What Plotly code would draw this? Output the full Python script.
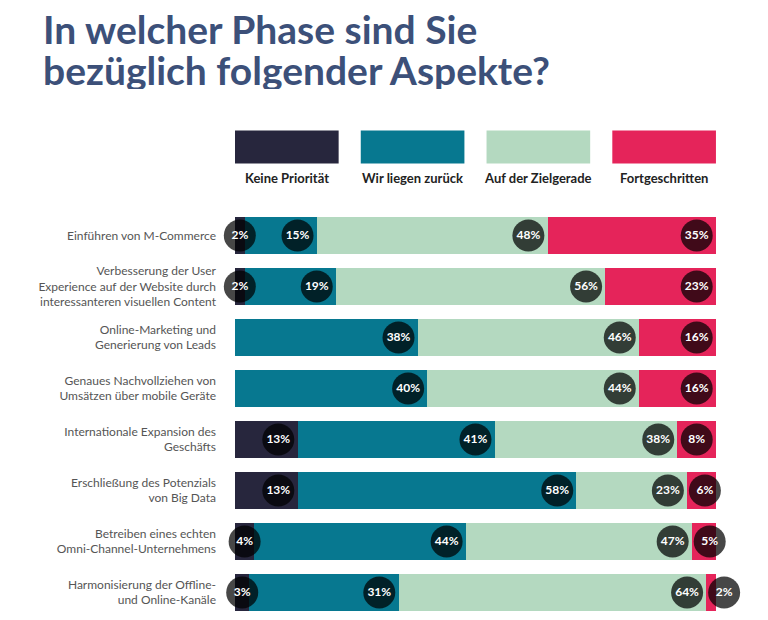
import plotly.graph_objects as go

# survey rows (top to bottom) and answer shares in percent
aspects = [
    "Einführen von M-Commerce",
    "Verbesserung der User<br>Experience auf der Website durch<br>interessanteren visuellen Content",
    "Online-Marketing und<br>Generierung von Leads",
    "Genaues Nachvollziehen von<br>Umsätzen über mobile Geräte",
    "Internationale Expansion des<br>Geschäfts",
    "Erschließung des Potenzials<br>von Big Data",
    "Betreiben eines echten<br>Omni-Channel-Unternehmens",
    "Harmonisierung der Offline-<br>und Online-Kanäle",
]
phases = ["Keine Priorität", "Wir liegen zurück", "Auf der Zielgerade", "Fortgeschritten"]
keine_prioritaet = [2, 2, 0, 0, 13, 13, 4, 3]
wir_liegen_zurueck = [15, 19, 38, 40, 41, 58, 44, 31]
auf_der_zielgerade = [48, 56, 46, 44, 38, 23, 47, 64]
fortgeschritten = [35, 23, 16, 16, 8, 6, 5, 2]
title_lines = ["In welcher Phase sind Sie", "bezüglich folgender Aspekte?"]

series = [keine_prioritaet, wir_liegen_zurueck, auf_der_zielgerade, fortgeschritten]
colors = ["#27263d", "#077890", "#b4d9c0", "#e5245a"]

# page offset of the figure (browser body margin); bar box in page pixels
OFF = 8
BL, BR, PT, PB = 235, 716, 209.5, 618
X_MAX = 105  # a little room right of 100 % so outer bubbles stay visible
PR = BL + (BR - BL) * X_MAX / 100


def px_x(x):
    return (x - BL) / (PR - BL)


def px_y(y):
    return (PB - y) / (PB - PT)


fig = go.Figure()
for name, values, color in zip(phases, series, colors):
    fig.add_trace(go.Bar(
        name=name, y=aspects, x=values, orientation="h",
        marker=dict(color=color, line_width=0),
        showlegend=False, hoverinfo="skip",
    ))

# value bubbles: near the right end of each segment, small ones handled apart
bx, by, bt = [], [], []
for row, aspect in enumerate(aspects):
    start = 0
    for k, values in enumerate(series):
        v = values[row]
        end = start + v
        if v > 0:
            if v >= 8:
                cx = end - 4
            elif k == 0:
                cx = start + v / 2
            else:
                cx = start + 3.7
            bx.append(cx)
            by.append(aspect)
            bt.append(f"{v}%")
        start = end

fig.add_trace(go.Scatter(
    x=bx, y=by, text=bt, mode="markers+text",
    marker=dict(size=32, color="rgba(0,0,0,0.72)", line_width=0),
    textposition="middle center",
    textfont=dict(family="Lato", size=12, color="white", weight="bold"),
    cliponaxis=False, showlegend=False, hoverinfo="skip",
))

# hand-made legend: colour blocks with the phase name below
gap = 0.046 * (BR - BL)
w = ((BR - BL) - 3 * gap) / 4
for i, (name, color) in enumerate(zip(phases, colors)):
    x0 = BL + i * (w + gap)
    fig.add_shape(type="rect", xref="paper", yref="paper",
                  x0=px_x(x0), x1=px_x(x0 + w), y0=px_y(163), y1=px_y(130),
                  fillcolor=color, line_width=0)
    fig.add_annotation(xref="paper", yref="paper", x=px_x(x0 + w / 2), y=px_y(177),
                       text=name, showarrow=False, xanchor="center", yanchor="middle",
                       font=dict(family="Lato", size=13, color="#222222", weight="bold"))

# two-line heading, lines placed separately for tight leading
for line, yc in zip(title_lines, [28, 69]):
    fig.add_annotation(xref="paper", yref="paper", x=px_x(41), y=px_y(yc),
                       text=line, showarrow=False, xanchor="left", yanchor="middle",
                       height=38, valign="middle",
                       font=dict(family="Lato", size=39, color="#3c5079", weight="bold"))

fig.update_layout(
    width=768, height=620,
    barmode="stack", bargap=0.29,
    margin=dict(l=BL - OFF, r=768 - (PR - OFF), t=PT - OFF, b=620 - (PB - OFF),
                autoexpand=False),
    paper_bgcolor="white", plot_bgcolor="white",
)
fig.update_xaxes(range=[0, X_MAX], visible=False)
fig.update_yaxes(
    range=[len(aspects) - 0.5, -0.5], showgrid=False, zeroline=False, ticks="",
    ticklabelstandoff=18,
    tickfont=dict(family="Lato", size=12, color="#555555"),
)

fig.write_html("out.html")
